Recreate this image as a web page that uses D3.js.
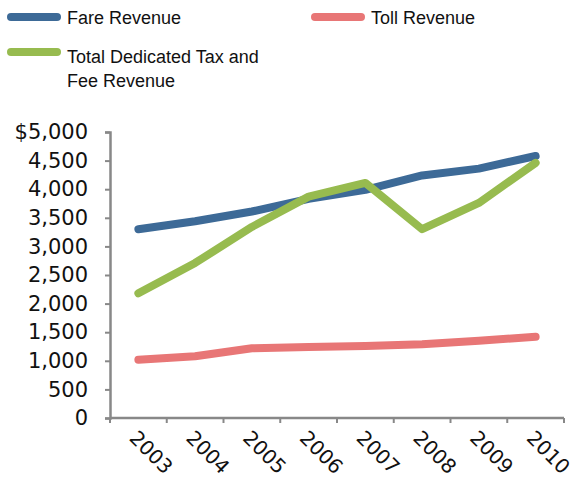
<!DOCTYPE html>
<html>
<head>
<meta charset="utf-8">
<title>Revenue</title>
<script src="https://d3js.org/d3.v7.min.js"></script>
<style>
  body { margin: 0; background: #fff; }
  text { fill: #111; }
</style>
</head>
<body>
<div id="chart"></div>
<script>
var years = ["2003", "2004", "2005", "2006", "2007", "2008", "2009", "2010"];
var fareRevenue = [3300, 3440, 3610, 3830, 3990, 4240, 4360, 4580];
var tollRevenue = [1020, 1080, 1220, 1240, 1260, 1290, 1350, 1420];
var taxRevenue = [2180, 2710, 3340, 3870, 4110, 3300, 3760, 4460];
var yTicks = [0, 500, 1000, 1500, 2000, 2500, 3000, 3500, 4000, 4500, 5000];

var series = [
  {name: "Fare Revenue", values: fareRevenue, color: "#3d6a97"},
  {name: "Toll Revenue", values: tollRevenue, color: "#e87676"},
  {name: "Total Dedicated Tax and|Fee Revenue", values: taxRevenue, color: "#97bb4f"}
];

var svgDims = {width: 583, height: 480};
var margin = {top: 132, right: 19, bottom: 62, left: 110};
var axisFont = "'DejaVu Sans', Verdana, sans-serif";
var legendFont = "'Liberation Sans', Arial, sans-serif";

var svg = d3.select("#chart").append("svg")
  .attr("width", svgDims.width)
  .attr("height", svgDims.height);

var x_scale = d3.scaleBand().domain(years).range([margin.left, svgDims.width - margin.right]);
var y_scale = d3.scaleLinear().domain([0, 5000]).range([svgDims.height - margin.bottom, margin.top]);

// y axis
var yAxis = svg.append("g")
  .attr("transform", "translate(" + margin.left + ",0)")
  .call(d3.axisLeft(y_scale).tickValues(yTicks).tickSize(5).tickPadding(17)
    .tickFormat(function(d) { return d === 5000 ? "$5,000" : d3.format(",")(d); }));
yAxis.select(".domain").attr("stroke", "#888").attr("stroke-width", 2.5);
yAxis.selectAll(".tick line").attr("stroke", "#888").attr("stroke-width", 2);
yAxis.selectAll(".tick text")
  .style("font-family", axisFont).style("font-size", "21px").attr("fill", "#111");

// x axis with ticks between categories
var xAxisG = svg.append("g")
  .attr("transform", "translate(0," + y_scale(0) + ")");
xAxisG.append("line")
  .attr("x1", margin.left).attr("x2", svgDims.width - margin.right)
  .attr("stroke", "#888").attr("stroke-width", 2.5);
var bounds = years.map(function(d) { return x_scale(d); }).concat([x_scale.range()[1]]);
xAxisG.selectAll(".xt").data(bounds).enter().append("line")
  .attr("x1", function(d) { return d; }).attr("x2", function(d) { return d; })
  .attr("y1", 0).attr("y2", 5)
  .attr("stroke", "#888").attr("stroke-width", 2);
xAxisG.selectAll(".xl").data(years).enter().append("text")
  .attr("transform", function(d) {
    return "translate(" + (x_scale(d) + x_scale.bandwidth() / 2) + ",11) rotate(45)";
  })
  .attr("dy", "0.72em")
  .style("font-family", axisFont)
  .style("font-size", "20px")
  .text(function(d) { return d; });

// lines
var line = d3.line()
  .x(function(d, i) { return x_scale(years[i]) + x_scale.bandwidth() / 2; })
  .y(function(d) { return y_scale(d); });

[series[0], series[2], series[1]].forEach(function(s) {
  svg.append("path")
    .datum(s.values)
    .attr("fill", "none")
    .attr("stroke", s.color)
    .attr("stroke-width", 8)
    .attr("stroke-linejoin", "round")
    .attr("stroke-linecap", "round")
    .attr("d", line);
});

// legend
var legendPos = [{x: 8, y: 17}, {x: 312, y: 17}, {x: 8, y: 52}];
series.forEach(function(s, i) {
  var g = svg.append("g").attr("transform", "translate(" + legendPos[i].x + "," + legendPos[i].y + ")");
  g.append("line").attr("x1", 3).attr("x2", 49)
    .attr("stroke", s.color).attr("stroke-width", 8).attr("stroke-linecap", "round");
  var t = g.append("text").attr("x", 59).attr("y", i === 2 ? 11 : 7)
    .style("font-family", legendFont).style("font-size", "18px");
  s.name.split("|").forEach(function(part, j) {
    t.append("tspan").attr("x", 59).attr("dy", j === 0 ? 0 : 24).text(part);
  });
});
</script>
</body>
</html>
